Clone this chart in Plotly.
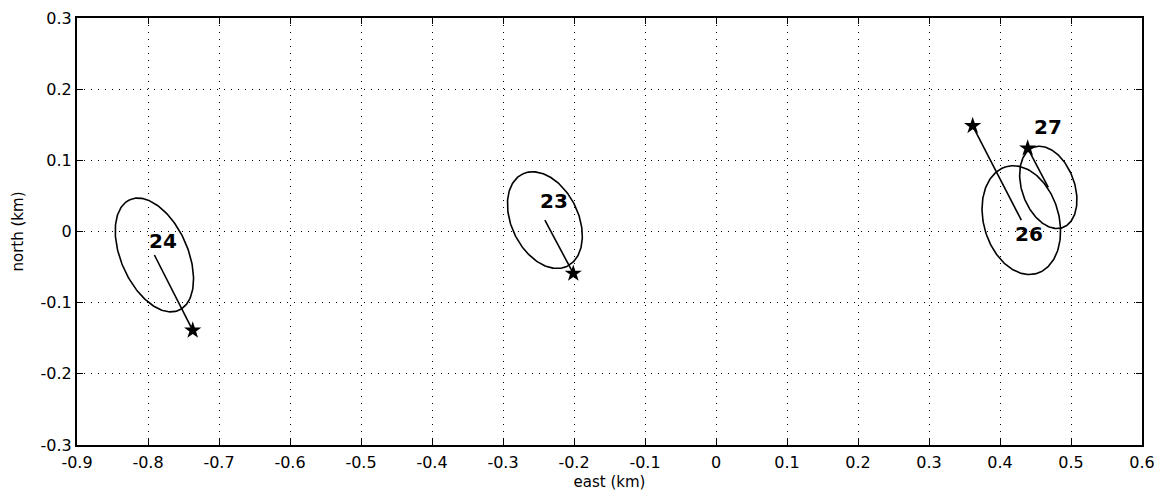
import numpy as np
import plotly.graph_objects as go

# ---- data ----
ids = ["24", "23", "26", "27"]
center_x = [-0.791, -0.241, 0.430, 0.468]
center_y = [-0.033, 0.016, 0.016, 0.062]
semi_major = [0.085, 0.072, 0.078, 0.060]
semi_minor = [0.047, 0.047, 0.053, 0.037]
tilt_deg = [24, 26, 16, 20]          # major axis tilt from vertical (top leaning west)
star_x = [-0.737, -0.201, 0.3615, 0.439]
star_y = [-0.139, -0.059, 0.1485, 0.117]
label_x = [-0.779, -0.228, 0.441, 0.468]
label_y = [-0.013, 0.043, -0.004, 0.147]

x_ticks = [-0.9, -0.8, -0.7, -0.6, -0.5, -0.4, -0.3, -0.2, -0.1, 0, 0.1, 0.2, 0.3, 0.4, 0.5, 0.6]
x_ticktext = ["-0.9", "-0.8", "-0.7", "-0.6", "-0.5", "-0.4", "-0.3", "-0.2", "-0.1", "0",
              "0.1", "0.2", "0.3", "0.4", "0.5", "0.6"]
y_ticks = [-0.3, -0.2, -0.1, 0, 0.1, 0.2, 0.3]
y_ticktext = ["-0.3", "-0.2", "-0.1", "0", "0.1", "0.2", "0.3"]

FONT = "DejaVu Sans"

fig = go.Figure()
t = np.linspace(0, 2 * np.pi, 200)
for i in range(len(ids)):
    th = np.deg2rad(tilt_deg[i])
    a, b = semi_major[i], semi_minor[i]
    ex = center_x[i] + a * np.cos(t) * (-np.sin(th)) + b * np.sin(t) * np.cos(th)
    ey = center_y[i] + a * np.cos(t) * np.cos(th) + b * np.sin(t) * np.sin(th)
    fig.add_trace(go.Scatter(x=ex, y=ey, mode="lines",
                             line=dict(color="black", width=1.6),
                             hoverinfo="skip", showlegend=False))
    fig.add_trace(go.Scatter(x=[center_x[i], star_x[i]], y=[center_y[i], star_y[i]],
                             mode="lines", line=dict(color="black", width=1.6),
                             showlegend=False))
    fig.add_trace(go.Scatter(x=[star_x[i]], y=[star_y[i]], mode="markers",
                             marker=dict(symbol="star", size=13, color="black"),
                             showlegend=False))
    fig.add_annotation(x=label_x[i], y=label_y[i], text=ids[i], showarrow=False,
                       font=dict(family=FONT, size=20, color="black", weight="bold"))

axis_common = dict(showline=True, linecolor="black", linewidth=2, mirror="ticks",
                   ticks="inside", ticklen=6, tickcolor="black", tickwidth=1,
                   showgrid=True, gridcolor="black", gridwidth=1, griddash="1px,6px",
                   zeroline=False, automargin=False, ticklabeloverflow="allow",
                   tickfont=dict(family=FONT, size=16, color="black"))

fig.update_xaxes(range=[-0.9, 0.6], tickvals=x_ticks, ticktext=x_ticktext,
                 ticklabelstandoff=2,
                 title=dict(text="east (km)", standoff=11,
                            font=dict(family=FONT, size=15, color="black")),
                 **axis_common)
fig.update_yaxes(range=[-0.3, 0.3], tickvals=y_ticks, ticktext=y_ticktext,
                 title=dict(text="north (km)", standoff=13,
                            font=dict(family=FONT, size=15, color="black")),
                 **axis_common)

fig.update_layout(width=1161, height=491, plot_bgcolor="white", paper_bgcolor="white",
                  margin=dict(l=77, r=19, t=18, b=46), showlegend=False)

# remove the browser's default 8px body margin so the figure fills the window exactly
fig.write_html("out.html", config={"displayModeBar": False},
               post_script="document.body.style.margin='0';")
